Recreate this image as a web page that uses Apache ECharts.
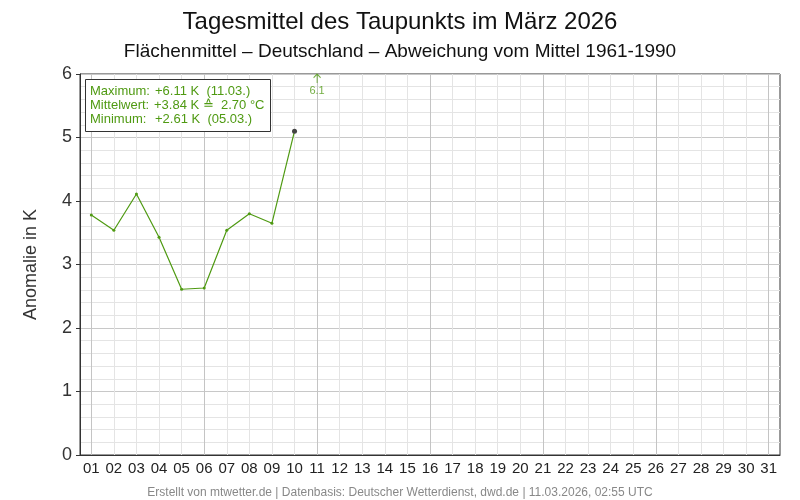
<!DOCTYPE html>
<html><head><meta charset="utf-8">
<script src="https://cdn.jsdelivr.net/npm/echarts@6/dist/echarts.min.js"></script>
<style>html,body{margin:0;padding:0;background:#fff}#c{width:800px;height:500px}</style>
</head><body><div id="c"></div>
<script>
var days = ['01','02','03','04','05','06','07','08','09','10','11','12','13','14','15','16','17','18','19','20','21','22','23','24','25','26','27','28','29','30','31'];
var anomaly = [3.78, 3.54, 4.11, 3.43, 2.61, 2.63, 3.54, 3.80, 3.65, 5.10, 6.11];
var yTicks = [0, 1, 2, 3, 4, 5, 6];
var statLabels = ['Maximum:', 'Mittelwert:', 'Minimum:'];
var statValues = ['+6.11 K  (11.03.)', '+3.84 K \u2259  2.70 \u00b0C', '+2.61 K  (05.03.)'];

var yMin = yTicks[0], yMax = yTicks[yTicks.length - 1];
var green = '#4f9a12';
var FONT = 'Liberation Sans, Arial, sans-serif';

var lineData = anomaly.map(function (v, i) {
  if (v > yMax) return null;
  if (i === anomaly.length - 2 && anomaly[anomaly.length - 1] > yMax || i === anomaly.length - 1) {
    return { value: v, symbolSize: 5, itemStyle: { color: '#444' } };
  }
  return v;
});
var overData = anomaly.map(function (v) { return v > yMax ? { value: yMax, raw: v } : null; });

var chart = echarts.init(document.getElementById('c'), null, { renderer: 'canvas' });
chart.setOption({
  animation: false,
  textStyle: { fontFamily: FONT },
  title: [
    { text: 'Tagesmittel des Taupunkts im März 2026', left: 'center', top: 5,
      textStyle: { fontFamily: FONT, fontSize: 24, fontWeight: 'normal', color: '#111' } },
    { text: 'Flächenmittel – Deutschland – Abweichung vom Mittel 1961-1990', left: 'center', top: 37,
      textStyle: { fontFamily: FONT, fontSize: 19, fontWeight: 'normal', color: '#111' } },
    { text: 'Erstellt von mtwetter.de | Datenbasis: Deutscher Wetterdienst, dwd.de | 11.03.2026, 02:55 UTC',
      left: 'center', top: 482, textStyle: { fontFamily: FONT, fontSize: 12, fontWeight: 'normal', color: '#888' } }
  ],
  grid: { left: 80, right: 20, top: 74, bottom: 45, show: true, borderColor: '#333', borderWidth: 1, backgroundColor: 'transparent' },
  xAxis: [
    { type: 'category', data: days, boundaryGap: true,
      axisLine: { lineStyle: { color: '#333' } }, axisTick: { show: false, alignWithLabel: true },
      axisLabel: { interval: 0, fontSize: 15, color: '#222', margin: 6, fontFamily: FONT },
      splitLine: { show: true, interval: 0, alignWithLabel: true, lineStyle: { color: '#e4e4e4', width: 1 } } },
    { type: 'category', data: days, boundaryGap: true, position: 'bottom',
      axisLine: { show: false }, axisTick: { show: false, alignWithLabel: true }, axisLabel: { show: false },
      splitLine: { show: true, alignWithLabel: true, interval: function (i) { return i % 5 === 0; }, lineStyle: { color: '#c4c4c4', width: 1 } } }
  ],
  yAxis: {
    type: 'value', min: yMin, max: yMax, interval: 1,
    name: 'Anomalie in K', nameLocation: 'middle', nameGap: 40,
    nameTextStyle: { fontSize: 18, color: '#333', fontFamily: FONT },
    axisLine: { show: true, lineStyle: { color: '#333' } },
    axisTick: { show: true, length: 4, lineStyle: { color: '#333' } },
    axisLabel: { fontSize: 18, color: '#333', margin: 8, fontFamily: FONT },
    splitLine: { show: true, lineStyle: { color: '#c8c8c8' } },
    minorTick: { show: false, splitNumber: 5 },
    minorSplitLine: { show: true, lineStyle: { color: '#e4e4e4' } }
  },
  series: [
    { type: 'line', data: lineData, connectNulls: false, symbol: 'circle', symbolSize: 3,
      lineStyle: { color: green, width: 1.2 }, itemStyle: { color: green }, z: 5 },
    { type: 'scatter', data: overData,
      symbol: 'path://M5,0 L0,5 M5,0 L10,5 M5,0 L5,12', symbolSize: [7, 9], symbolOffset: [0, '50%'],
      itemStyle: { color: 'transparent', borderColor: green, borderWidth: 1 },
      label: { show: true, position: 'bottom', distance: 2, fontSize: 11, color: green, fontFamily: FONT,
        formatter: function (p) { return p.data.raw.toFixed(1); } }, z: 6 }
  ],
  graphic: [
    { type: 'rect', shape: { x: 85.5, y: 79.5, width: 185, height: 52 },
      style: { fill: '#fff', stroke: '#333', lineWidth: 1 }, z: 10 }
  ].concat(statLabels.map(function (t, i) {
    return { type: 'text', x: 90, y: 85 + i * 14, z: 11,
      style: { text: t, fill: green, font: '13px ' + FONT } };
  })).concat(statValues.map(function (t, i) {
    return { type: 'text', x: i === 1 ? 154 : 155, y: 85 + i * 14, z: 11,
      style: { text: t, fill: green, font: '13px ' + FONT } };
  }))
});
</script></body></html>
